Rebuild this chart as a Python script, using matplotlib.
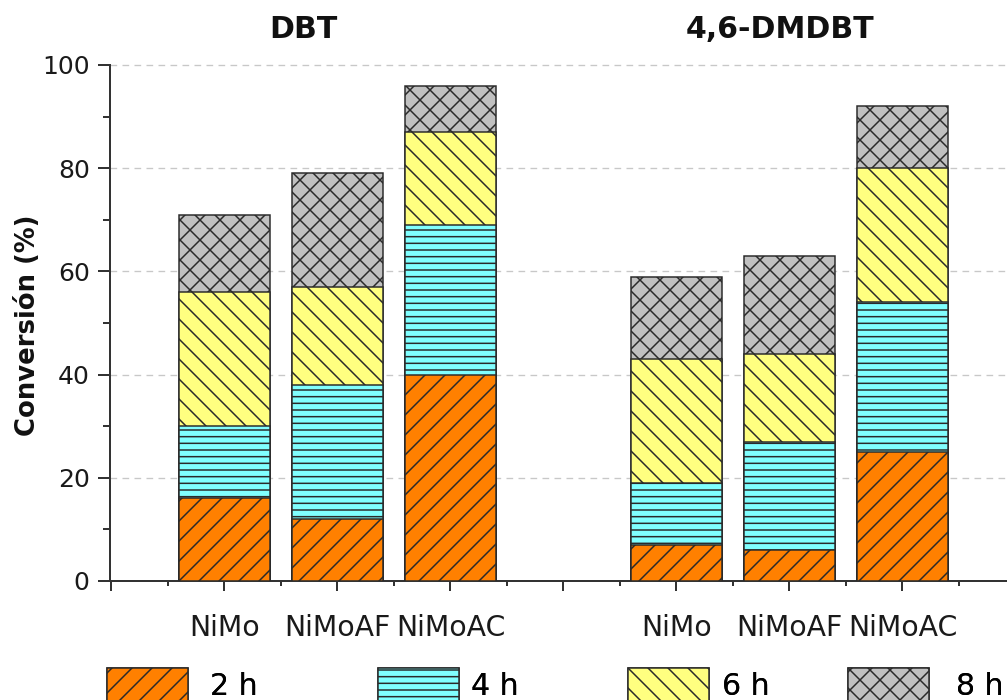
import numpy as np
import matplotlib
matplotlib.use("Agg")
import matplotlib.pyplot as plt
from matplotlib.ticker import FixedLocator, MultipleLocator

# Catalysts and reaction times
catalysts = ["NiMo", "NiMoAF", "NiMoAC"]
times = ["2 h", "4 h", "6 h", "8 h"]

# Conversion (%) of DBT at each reaction time
dbt_2h = [16, 12, 40]
dbt_4h = [30, 38, 69]
dbt_6h = [56, 57, 87]
dbt_8h = [71, 79, 96]

# Conversion (%) of 4,6-DMDBT at each reaction time
dmdbt_2h = [7, 6, 25]
dmdbt_4h = [19, 27, 54]
dmdbt_6h = [43, 44, 80]
dmdbt_8h = [59, 63, 92]

dbt = [dbt_2h, dbt_4h, dbt_6h, dbt_8h]
dmdbt = [dmdbt_2h, dmdbt_4h, dmdbt_6h, dmdbt_8h]

colors = ["#ff8000", "#80ffff", "#ffff80", "#c0c0c0"]
hatches = ["//", "---", "\\\\", "xx"]
edge = "#2a2a2a"

DPI = 120
W, H = 1007, 700
plt.rcParams["font.family"] = ["DejaVu Sans"]
plt.rcParams["hatch.linewidth"] = 0.9

fig = plt.figure(figsize=(W / DPI, H / DPI), dpi=DPI)
ax = fig.add_axes([110 / W, 119 / H, 1 - 110 / W, 516 / H])

x_dbt = np.arange(len(catalysts))
x_dmdbt = x_dbt + len(catalysts) + 1
width = 0.8

# Later times first, so each shorter time sits in front of the longer one
handles = [None] * len(times)
for i in reversed(range(len(times))):
    for xs, vals in ((x_dbt, dbt[i]), (x_dmdbt, dmdbt[i])):
        bars = ax.bar(xs, vals, width=width, color=colors[i], edgecolor=edge,
                      linewidth=0.9, hatch=hatches[i], zorder=3,
                      label=times[i])
    handles[i] = bars

ax.set_xlim(-1.013, 6.925)
ax.set_ylim(0, 100)

# y axis
ax.yaxis.set_major_locator(MultipleLocator(20))
ax.yaxis.set_minor_locator(MultipleLocator(10))
ax.tick_params(axis="y", which="major", length=7.2, width=1.2, color="#333333",
               labelsize=15, pad=5, labelcolor="#1a1a1a")
ax.tick_params(axis="y", which="minor", length=4.2, width=1.2, color="#333333")

# x axis
ax.xaxis.set_major_locator(FixedLocator(np.arange(-1, 7)))
ax.xaxis.set_minor_locator(FixedLocator(np.arange(-0.5, 7, 1.0)))
ax.set_xticklabels(["", *catalysts, "", *catalysts])
ax.tick_params(axis="x", which="major", length=6, width=1.2, color="#333333",
               labelsize=17, pad=14, labelcolor="#1a1a1a")
ax.tick_params(axis="x", which="minor", length=3, width=1.2, color="#333333")

for side in ("top", "right"):
    ax.spines[side].set_visible(False)
for side in ("left", "bottom"):
    ax.spines[side].set_color("#333333")
    ax.spines[side].set_linewidth(1.2)

# dashed horizontal grid
for y in ax.get_yticks():
    if 0 < y <= 100:
        ax.axhline(y, color="#c8c8c8", linewidth=0.8, linestyle=(0, (5, 4)),
                   zorder=1, clip_on=False)

# Panel titles and axis label
fig.text(303 / W, 1 - 30 / H, "DBT", ha="center", va="center",
         fontsize=18, fontweight="bold", color="#111111")
fig.text(780 / W, 1 - 30 / H, "4,6-DMDBT", ha="center", va="center",
         fontsize=18, fontweight="bold", color="#111111")
fig.text(28 / W, 1 - 325 / H, "Conversión (%)", rotation=90,
         ha="center", va="center", fontsize=15.5, fontweight="bold",
         color="#111111")

# One legend entry per time, spread along the bottom edge
legend_left = [107, 378, 628, 848]
legend_pad = [0.75, 0.4, 0.45, 0.9]
for i in range(len(times)):
    leg = fig.legend(handles=[handles[i]], labels=[times[i]], frameon=False,
                     loc="upper left",
                     bbox_to_anchor=(legend_left[i] / W, 1 - 668 / H),
                     fontsize=18, handlelength=2.7, handleheight=1.4,
                     handletextpad=legend_pad[i], borderpad=0,
                     borderaxespad=0)
    fig.add_artist(leg)

fig.savefig("out.png", dpi=DPI)
